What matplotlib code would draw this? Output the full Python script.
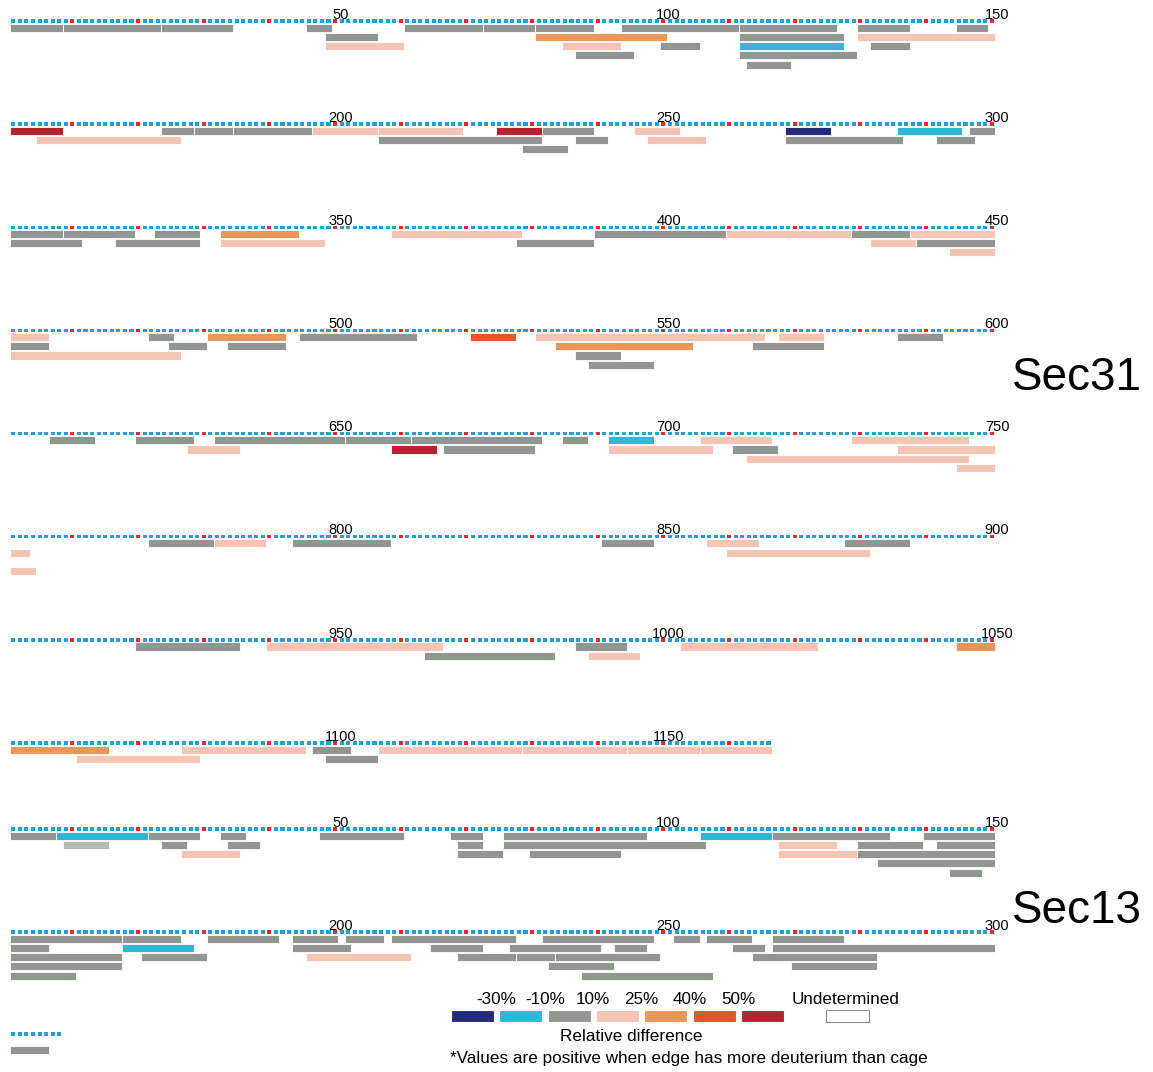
import matplotlib
matplotlib.use("Agg")
import matplotlib.pyplot as plt
from matplotlib.patches import Rectangle

# ---------------- data ----------------
# class codes: A <-30%, B -30..-10%, G -10..10%, P 10..25%, O 25..40%, R 40..50%, D >50%, L light grey
legend_labels = ["-30%", "-10%", "10%", "25%", "40%", "50%"]
legend_classes = ["A", "B", "G", "P", "O", "R", "D"]

sec31_length = 1166
sec13_length = 300

sec31_start = [1, 9, 24, 46, 61, 73, 81, 94, 112, 130, 145,
               49, 81, 112, 130,
               49, 85, 100, 112, 132,
               87, 112,
               113,
               151, 174, 179, 185, 197, 207, 225, 232, 246, 269, 286, 297,
               155, 207, 237, 248, 269, 292,
               229,
               301, 309, 323, 333, 359, 390, 410, 429, 438,
               301, 317, 333, 378, 432, 439,
               444,
               451, 472, 481, 495, 521, 531, 568, 586,
               451, 475, 484, 534, 564,
               451, 537,
               539,
               607, 620, 632, 652, 662, 685, 692, 706, 729,
               628, 659, 667, 692, 711, 736,
               713,
               745,
               772, 782, 794, 841, 857, 878,
               751, 860,
               751,
               920, 940, 987, 1003, 1045,
               964, 989,
               1051, 1077, 1097, 1107, 1129, 1145, 1156,
               1061, 1099]
sec31_end = [8, 23, 34, 49, 72, 80, 89, 111, 126, 137, 149,
             56, 100, 127, 150,
             60, 93, 105, 127, 137,
             95, 129,
             119,
             158, 178, 184, 196, 206, 219, 231, 239, 252, 275, 295, 300,
             176, 231, 241, 256, 286, 297,
             235,
             308, 319, 329, 344, 378, 409, 428, 437, 450,
             311, 329, 348, 389, 438, 450,
             450,
             456, 475, 492, 512, 527, 565, 574, 592,
             456, 480, 492, 554, 574,
             476, 543,
             548,
             613, 628, 651, 661, 681, 688, 698, 716, 746,
             635, 665, 680, 707, 717, 750,
             746,
             750,
             781, 789, 808, 848, 864, 887,
             753, 881,
             754,
             935, 966, 994, 1023, 1050,
             983, 996,
             1065, 1095, 1102, 1128, 1144, 1155, 1166,
             1079, 1106]
sec31_class = list("GGGGGGGGGGG" "GOGP" "PPGBG" "GG" "G"
                   "DGGGPPDGPABG" "PGGPGG" "G"
                   "GGGOPGPGP" "GGPGPG" "P"
                   "PGOGRPPG" "GGGOG" "PG" "G"
                   "GGGGGGBPP" "PDGPGP" "P" "P"
                   "GPGGPG" "PP" "P"
                   "GPGPO" "GP"
                   "OPGPPPP" "PG")
sec31_lane = ([0] * 11 + [1] * 4 + [2] * 5 + [3] * 2 + [4]
              + [0] * 12 + [1] * 6 + [2]
              + [0] * 9 + [1] * 6 + [2]
              + [0] * 8 + [1] * 5 + [2] * 2 + [3]
              + [0] * 9 + [1] * 6 + [2] + [3]
              + [0] * 6 + [1] * 2 + [3]
              + [0] * 5 + [1] * 2
              + [0] * 7 + [1] * 2)

sec13_start = [1, 8, 22, 33, 48, 68, 76, 106, 117, 140,
               9, 24, 34, 69, 76, 118, 130, 142,
               27, 69, 80, 118, 130,
               133,
               144,
               151, 168, 181, 194, 202, 209, 232, 252, 257, 267,
               151, 168, 194, 215, 227, 243, 261, 267,
               151, 171, 196, 219, 228, 234, 264,
               151, 233, 270,
               151, 238]
sec13_end = [7, 21, 29, 36, 60, 72, 97, 116, 134, 150,
             15, 27, 38, 72, 106, 126, 139, 150,
             35, 75, 93, 129, 150,
             150,
             148,
             167, 176, 191, 200, 207, 227, 248, 255, 263, 277,
             156, 178, 202, 222, 240, 247, 265, 300,
             167, 180, 211, 227, 233, 249, 282,
             167, 242, 282,
             160, 257]
sec13_class = list("GBGGGGGBGG" "LGGGGPGG" "PGGPG" "G" "G"
                   "GGGGGGGGGG" "GBGGGGGG" "GGPGGGG" "GGG" "GG")
sec13_lane = ([0] * 10 + [1] * 8 + [2] * 5 + [3] + [4]
              + [0] * 10 + [1] * 8 + [2] * 7 + [3] * 3 + [4] * 2)

# ---------------- styles / layout ----------------
colors = {"A": "#262a7c", "B": "#2bbad6", "G": "#919691", "P": "#f4c4b5",
          "O": "#e8965a", "R": "#e0562d", "D": "#b42532", "L": "#b6bab5"}
dot_blue = "#1f9fdc"
dot_red = "#e8262b"

W, H, DPI = 1153, 1072, 100
PXR = 6.567                    # pixels per residue
PX0 = 10.0 - 0.5 * PXR         # pixel of residue 0
PER_ROW = 150
sec31_rows_y = [21 + 103.15 * i for i in range(8)]
sec13_rows_y = [829, 932]
LANE0, LANE_STEP, BAR_H = 6.6, 9.25, 8.2
DOT_H, DOT_W = 3.4, 0.62

plt.rcParams["font.family"] = ["Liberation Sans Narrow", "Liberation Sans", "DejaVu Sans"]

fig = plt.figure(figsize=(W / DPI, H / DPI), dpi=DPI)
ax = fig.add_axes([0, 0, 1, 1])
ax.set_xlim(-PX0 / PXR, (W - PX0) / PXR)
ax.set_ylim(H, 0)
ax.axis("off")


def draw_protein(length, rows_y, starts, ends, classes, lanes):
    # residue dots
    for r, y in enumerate(rows_y):
        first = r * PER_ROW + 1
        last = min((r + 1) * PER_ROW, length)
        res = list(range(first, last + 1))
        loc = [v - r * PER_ROW for v in res]
        cols = [dot_red if v % 10 == 0 else dot_blue for v in res]
        ax.bar(loc, DOT_H, bottom=y - DOT_H / 2, width=DOT_W, color=cols, linewidth=0)
        for k in (50, 100, 150):
            num = r * PER_ROW + k
            if num <= last:
                ax.text(k + 0.8, y - 2.4, str(num), ha="center", va="baseline",
                        fontsize=10.5, color="black")
    # peptides
    for s, e, c, ln in zip(starts, ends, classes, lanes):
        r = (s - 1) // PER_ROW
        y = rows_y[r] + LANE0 + ln * LANE_STEP
        ls = s - r * PER_ROW
        le = e - r * PER_ROW
        ax.add_patch(Rectangle((ls - 0.5, y - BAR_H / 2), le - ls + 1, BAR_H,
                               facecolor=colors[c], edgecolor="white", linewidth=0.6))


draw_protein(sec31_length, sec31_rows_y, sec31_start, sec31_end, sec31_class, sec31_lane)
draw_protein(sec13_length, sec13_rows_y, sec13_start, sec13_end, sec13_class, sec13_lane)

# key at bottom left (dotted line and a peptide bar)
key_res = list(range(1, 9))
ax.bar(key_res, DOT_H, bottom=1034 - DOT_H / 2, width=DOT_W, color=dot_blue, linewidth=0)
ax.add_patch(Rectangle((0.5, 1050 - BAR_H / 2), 6, BAR_H, facecolor=colors["G"],
                       edgecolor="white", linewidth=0.6))

# protein names
ax.text((1012 - PX0) / PXR, 378, "Sec31", fontsize=33, ha="left", va="center",
        family=["Liberation Sans", "DejaVu Sans"])
ax.text((1012 - PX0) / PXR, 911, "Sec13", fontsize=33, ha="left", va="center",
        family=["Liberation Sans", "DejaVu Sans"])

# ---------------- colour legend (pixel overlay) ----------------
lx = fig.add_axes([0, 0, 1, 1])
lx.set_xlim(0, W)
lx.set_ylim(H, 0)
lx.axis("off")
lx.patch.set_alpha(0)
LF = 12.3
box_x0, box_w, box_gap, box_y, box_h = 451, 43, 5.3, 1010, 12
for i, c in enumerate(legend_classes):
    x0 = box_x0 + i * (box_w + box_gap)
    lx.add_patch(Rectangle((x0, box_y), box_w, box_h, facecolor=colors[c], edgecolor="white", lw=0.8))
for i, lab in enumerate(legend_labels):
    xc = box_x0 + (i + 1) * (box_w + box_gap) - box_gap / 2
    lx.text(xc, 1004, lab, ha="center", va="baseline", fontsize=LF,
            family=["Liberation Sans", "DejaVu Sans"])
lx.add_patch(Rectangle((826, box_y), box_w, box_h, facecolor="white", edgecolor="#8a8a8a", lw=0.8))
lx.text(846, 1004, "Undetermined", ha="center", va="baseline", fontsize=LF,
        family=["Liberation Sans", "DejaVu Sans"])
lx.text(631, 1041, "Relative difference", ha="center", va="baseline", fontsize=LF,
        family=["Liberation Sans", "DejaVu Sans"])
lx.text(689, 1063, "*Values are positive when edge has more deuterium than cage",
        ha="center", va="baseline", fontsize=LF, family=["Liberation Sans", "DejaVu Sans"])

fig.savefig("out.png", dpi=DPI)
